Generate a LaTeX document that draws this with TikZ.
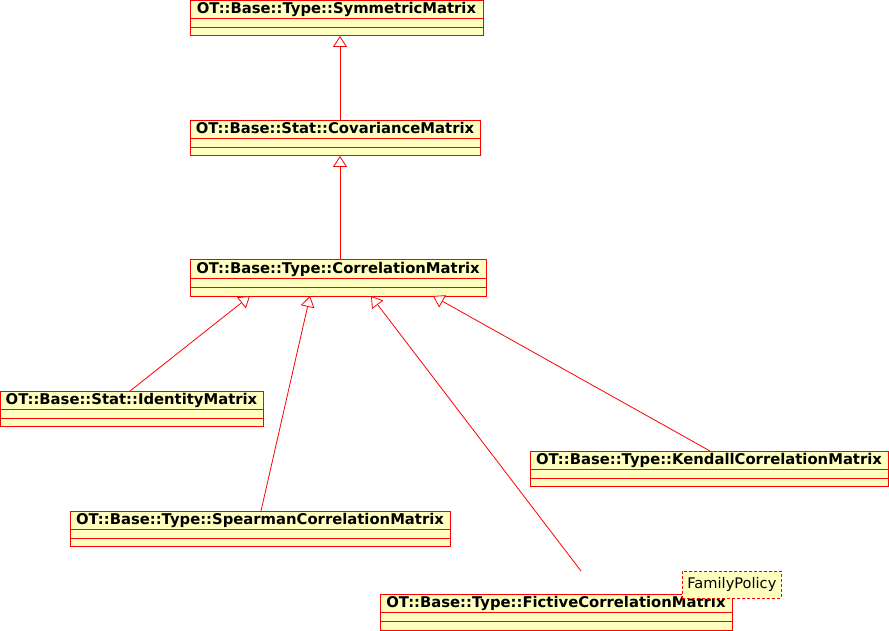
\documentclass[tikz,border=0pt]{standalone}
\usepackage{fontspec}
\setmainfont{DejaVu Sans}
\usetikzlibrary{arrows.meta,calc}
\definecolor{umlfill}{HTML}{FFFFC0}
\definecolor{umlline}{HTML}{FF0000}
\newcommand\umlclass[6]{%
  \node[classbox, minimum width=#4-#2, minimum height=#5-#3, anchor=north west] (#1) at (#2,#3) {};
  \draw[classline] ($(#1.north west)+(0,18)$) -- ($(#1.north east)+(0,18)$);
  \draw[classline] ($(#1.north west)+(0,27)$) -- ($(#1.north east)+(0,27)$);
  \node[classtitle] (#1title) at ($(#1.north)+(0,13)$) {#6};
}
\begin{document}
\begin{tikzpicture}[x=1pt,y=-1pt,
  classbox/.style={draw=umlline, fill=umlfill, line width=1pt, inner sep=0pt, outer sep=0pt, rectangle},
  classline/.style={draw=umlline, line width=1pt},
  classtitle/.style={anchor=base, inner sep=0pt, font=\bfseries\fontsize{14.8}{17}\selectfont},
  inh/.style={draw=umlline, line width=0.8pt, -{Triangle[open, length=11pt, width=14pt, fill=white]}},
  tmplbox/.style={draw=umlline, fill=umlfill, line width=0.8pt, dash pattern=on 3pt off 2pt, inner sep=0pt, minimum width=99pt, minimum height=27pt, font=\fontsize{14.6}{17}\selectfont},
]
\useasboundingbox (0,0) rectangle (889,631);
\umlclass{sym}{190}{1}{483}{36}{OT::Base::Type::SymmetricMatrix}
\umlclass{cov}{190}{121}{480}{156}{OT::Base::Stat::CovarianceMatrix}
\umlclass{corr}{190}{260}{486}{296}{OT::Base::Type::CorrelationMatrix}
\umlclass{ident}{0}{391}{263}{426}{OT::Base::Stat::IdentityMatrix}
\umlclass{kend}{530}{451}{888}{486}{OT::Base::Type::KendallCorrelationMatrix}
\umlclass{spear}{70}{511}{450}{546}{OT::Base::Type::SpearmanCorrelationMatrix}
\umlclass{fict}{380}{594}{732}{630}{OT::Base::Type::FictiveCorrelationMatrix}
\node[tmplbox, anchor=north west] (fampol) at (682,571) {FamilyPolicy};
\coordinate (fictend) at (581,571);
\draw[inh] ($(cov.north west)+(150,0)$) -- ($(sym.south west)+(150,0)$);
\draw[inh] ($(corr.north west)+(150,0)$) -- ($(cov.south west)+(150,0)$);
\draw[inh] ($(ident.north west)+(130,0)$) -- ($(corr.south west)+(60,0)$);
\draw[inh] ($(spear.north west)+(191,0)$) -- ($(corr.south west)+(120,0)$);
\draw[inh] (fictend) -- ($(corr.south west)+(181,0)$);
\draw[inh] ($(kend.north west)+(180,0)$) -- ($(corr.south west)+(243,0)$);
\end{tikzpicture}
\end{document}
